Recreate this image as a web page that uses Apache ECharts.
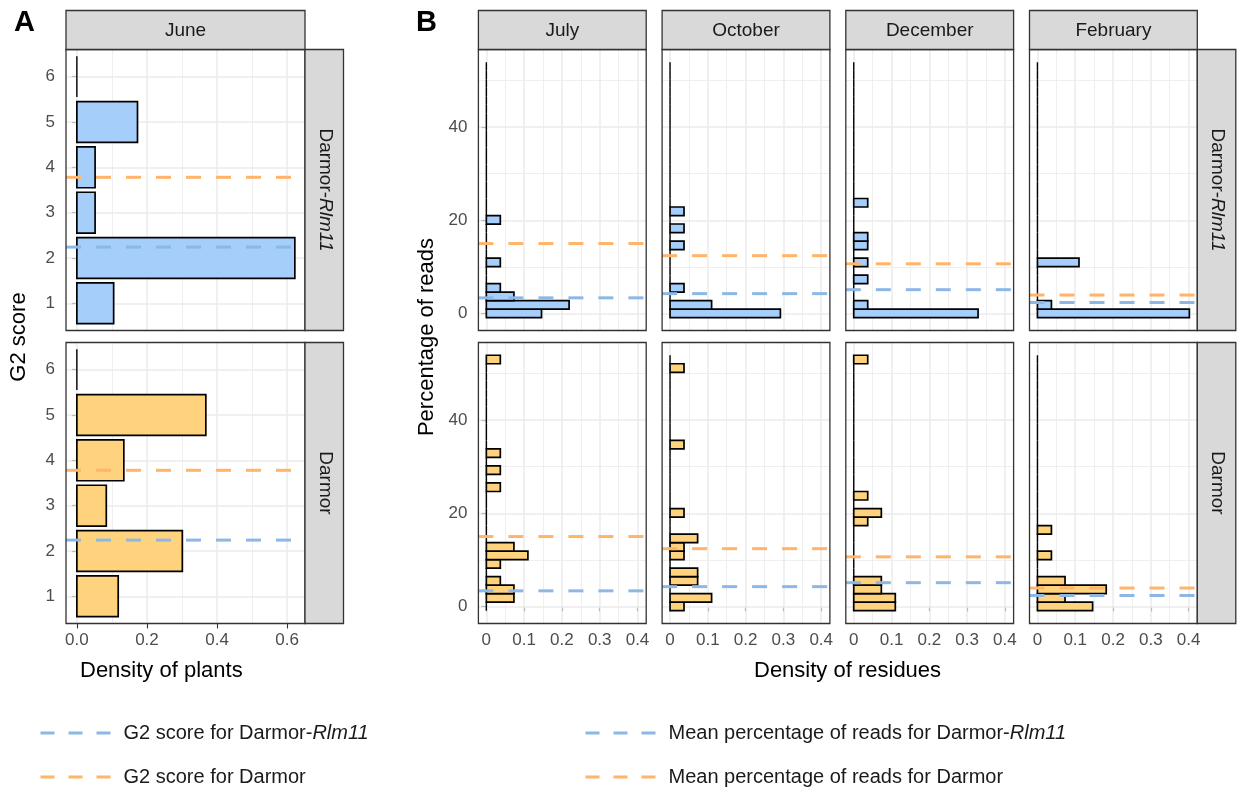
<!DOCTYPE html>
<html><head><meta charset="utf-8">
<script src="https://cdn.jsdelivr.net/npm/echarts@6/dist/echarts.min.js"></script>
<style>html,body{margin:0;padding:0;background:#fff}#c{width:1237px;height:790px}</style>
</head><body><div id="c"></div>
<script>
// ---------------- DATA ----------------
const genotypes = ['Darmor-Rlm11', 'Darmor'];
// Panel A: G2 score histogram (June)
const g2Scores = [1, 2, 3, 4, 5, 6];
const juneDensityRlm11 = [0.105, 0.622, 0.052, 0.052, 0.173, 0];
const juneDensityDarmor = [0.118, 0.301, 0.084, 0.134, 0.368, 0];
const g2MeanRlm11 = 2.24;
const g2MeanDarmor = 3.78;
// Panel B: percentage of reads histograms
const months = ['July', 'October', 'December', 'February'];
const binCenters = [0, 1.83, 3.66, 5.48, 7.31, 9.14, 10.97, 12.79, 14.62, 16.45, 18.28, 20.1, 21.93, 23.76, 25.59,
  27.41, 29.24, 31.07, 32.9, 34.72, 36.55, 38.38, 40.21, 42.03, 43.86, 45.69, 47.52, 49.34, 51.17, 53.0];
const julyRlm11 = [0.146,0.219,0.073,0.037,0,0,0.037,0,0,0,0,0.037,0,0,0,0,0,0,0,0,0,0,0,0,0,0,0,0,0,0];
const octoberRlm11 = [0.292,0.11,0,0.037,0,0,0,0,0.037,0,0.037,0,0.037,0,0,0,0,0,0,0,0,0,0,0,0,0,0,0,0,0];
const decemberRlm11 = [0.329,0.037,0,0,0.037,0,0.037,0,0.037,0.037,0,0,0,0.037,0,0,0,0,0,0,0,0,0,0,0,0,0,0,0,0];
const februaryRlm11 = [0.402,0.037,0,0,0,0,0.11,0,0,0,0,0,0,0,0,0,0,0,0,0,0,0,0,0,0,0,0,0,0,0];
const julyDarmor = [0,0.073,0.073,0.037,0,0.037,0.11,0.073,0,0,0,0,0,0,0.037,0,0.037,0,0.037,0,0,0,0,0,0,0,0,0,0,0.037];
const octoberDarmor = [0.037,0.11,0,0.073,0.073,0,0.037,0.037,0.073,0,0,0.037,0,0,0,0,0,0,0,0.037,0,0,0,0,0,0,0,0,0.037,0];
const decemberDarmor = [0.11,0.11,0.073,0.073,0,0,0,0,0,0,0.037,0.073,0,0.037,0,0,0,0,0,0,0,0,0,0,0,0,0,0,0,0.037];
const februaryDarmor = [0.146,0.073,0.182,0.073,0,0,0.037,0,0,0.037,0,0,0,0,0,0,0,0,0,0,0,0,0,0,0,0,0,0,0,0];
const readsMeanRlm11 = [3.35, 4.25, 5.1, 2.35];
const readsMeanDarmor = [15.0, 12.4, 10.65, 3.95];
// Ticks
const xTicksA = [0, 0.2, 0.4, 0.6];
const xMinorA = [0.1, 0.3, 0.5];
const yTicksA = [1, 2, 3, 4, 5, 6];
const xTicksB = [0, 0.1, 0.2, 0.3, 0.4];
const xMinorB = [0.05, 0.15, 0.25, 0.35];
const yTicksB = [0, 20, 40];
const yMinorB = [10, 30, 50];

const readsRlm11 = [julyRlm11, octoberRlm11, decemberRlm11, februaryRlm11];
const readsDarmor = [julyDarmor, octoberDarmor, decemberDarmor, februaryDarmor];

// ---------------- STYLE / LAYOUT ----------------
const FONT = '"Liberation Sans", Arial, Helvetica, sans-serif';
const FILL = { 'Darmor-Rlm11': '#a6cefb', 'Darmor': '#ffd37d' };
const LINE_BLUE = '#8db8e6', LINE_ORANGE = '#ffb46a';
const ROW_TOP = [49.5, 342.5], ROW_H = 281;
const A_LEFT = 66, A_W = 239;
const B_LEFT = [478.4, 662.1, 845.8, 1029.5], B_W = 167.8;
const STRIP_TOP = 10.5, STRIP_H = 39, RSTRIP_W = 38.5;
const A_XR = [-0.031, 0.651], A_YR = [0.4, 6.6];
const B_XR = [-0.021, 0.423], B_YR = [-3.66, 56.65];
const BAR_HALF_A = 0.45, BAR_HALF_B = 0.914;

const grids = [], xAxes = [], yAxes = [], series = [], graphics = [];

function gridLines(xMaj, xMin, yMaj, yMin) {
  const d = [];
  const maj = { color: '#ebebeb', width: 1.5, type: 'solid' };
  const mnr = { color: '#ededed', width: 0.9, type: 'solid' };
  xMin.forEach(v => d.push({ xAxis: v, lineStyle: mnr }));
  yMin.forEach(v => d.push({ yAxis: v, lineStyle: mnr }));
  xMaj.forEach(v => d.push({ xAxis: v, lineStyle: maj }));
  yMaj.forEach(v => d.push({ yAxis: v, lineStyle: maj }));
  return { silent: true, z: 1, symbol: ['none', 'none'], animation: false, label: { show: false }, emphasis: { disabled: true }, data: d };
}

function addPanel(p) {
  const gi = grids.length;
  grids.push({ left: p.left, top: p.top, width: p.width, height: p.height, show: false, containLabel: false, outerBoundsMode: 'none' });
  const tickStyle = { color: '#333333', width: 1.1 };
  xAxes.push({
    type: 'value', gridIndex: gi, min: p.xr[0], max: p.xr[1],
    axisLine: { show: false }, splitLine: { show: false }, minorSplitLine: { show: false },
    axisTick: { show: p.showX, customValues: p.xTicks, length: 5, lineStyle: tickStyle },
    axisLabel: { show: p.showX, customValues: p.xTicks, formatter: p.xFmt, color: '#4d4d4d', fontSize: 17, fontFamily: FONT, margin: 8 }
  });
  yAxes.push({
    type: 'value', gridIndex: gi, min: p.yr[0], max: p.yr[1],
    axisLine: { show: false }, splitLine: { show: false }, minorSplitLine: { show: false },
    axisTick: { show: p.showY, customValues: p.yTicks, length: 5, lineStyle: tickStyle },
    axisLabel: { show: p.showY, customValues: p.yTicks, color: '#4d4d4d', fontSize: 17, fontFamily: FONT, margin: 11 }
  });
  const half = p.half, fill = p.fill;
  series.push({
    type: 'custom', xAxisIndex: gi, yAxisIndex: gi, z: 2, clip: true, silent: true,
    data: p.values.map((d, i) => [d, p.cats[i]]),
    renderItem: (params, api) => {
      const d = api.value(0), c = api.value(1);
      const p0 = api.coord([0, c + half]);
      const p1 = api.coord([d, c - half]);
      if (!d) {
        return { type: 'line', shape: { x1: p0[0], y1: p0[1], x2: p0[0], y2: p1[1] }, style: { stroke: '#000', lineWidth: 1.4 } };
      }
      return { type: 'rect', shape: { x: p0[0], y: p0[1], width: p1[0] - p0[0], height: p1[1] - p0[1] },
        style: { fill: fill, stroke: '#000', lineWidth: 1.7 } };
    },
    markLine: gridLines(p.xTicks, p.xMinor, p.yTicks, p.yMinor)
  });
  p.means.forEach(m => {
    series.push({
      type: 'line', name: m.name, xAxisIndex: gi, yAxisIndex: gi, z: 3, silent: true, symbol: 'none', showSymbol: false,
      color: m.color, data: [[p.xr[0], m.value], [p.xr[1], m.value]],
      lineStyle: { color: m.color, width: 3, type: [15, 15] }
    });
  });
  graphics.push({ type: 'rect', z: 100, silent: true, shape: { x: p.left, y: p.top, width: p.width, height: p.height },
    style: { fill: 'none', stroke: '#333333', lineWidth: 1.3 } });
  return gi;
}

function topStrip(x, w, label) {
  graphics.push({ type: 'rect', z: 100, silent: true, shape: { x: x, y: STRIP_TOP, width: w, height: STRIP_H },
    style: { fill: '#d9d9d9', stroke: '#333333', lineWidth: 1.3 } });
  graphics.push({ type: 'text', z: 101, silent: true, x: x + w / 2, y: STRIP_TOP + STRIP_H / 2 + 1,
    style: { text: label, fill: '#1a1a1a', fontSize: 19, fontFamily: FONT, align: 'center', verticalAlign: 'middle' } });
}
function rightStrip(x, y, h, label) {
  graphics.push({ type: 'rect', z: 100, silent: true, shape: { x: x, y: y, width: RSTRIP_W, height: h },
    style: { fill: '#d9d9d9', stroke: '#333333', lineWidth: 1.3 } });
  graphics.push({ type: 'text', z: 101, silent: true, x: x + RSTRIP_W / 2 + 1, y: y + h / 2, rotation: -Math.PI / 2,
    style: { text: label.replace('Rlm11', '{i|Rlm11}'), fill: '#1a1a1a', fontSize: 19, fontFamily: FONT, align: 'center', verticalAlign: 'middle',
      rich: { i: { fontStyle: 'italic', fontSize: 19, fontFamily: FONT, fill: '#1a1a1a' } } } });
}

// Panel A
const juneData = [juneDensityRlm11, juneDensityDarmor];
genotypes.forEach((g, r) => {
  addPanel({
    left: A_LEFT, top: ROW_TOP[r], width: A_W, height: ROW_H, xr: A_XR, yr: A_YR,
    xTicks: xTicksA, xMinor: xMinorA, yTicks: yTicksA, yMinor: [],
    showX: r === 1, showY: true, xFmt: v => v.toFixed(1),
    values: juneData[r], cats: g2Scores, half: BAR_HALF_A, fill: FILL[g],
    means: [
      { name: 'G2 score for Darmor-Rlm11', value: g2MeanRlm11, color: LINE_BLUE },
      { name: 'G2 score for Darmor', value: g2MeanDarmor, color: LINE_ORANGE }
    ]
  });
  rightStrip(A_LEFT + A_W, ROW_TOP[r], ROW_H, g);
});
topStrip(A_LEFT, A_W, 'June');

// Panel B
const readsData = [readsRlm11, readsDarmor];
genotypes.forEach((g, r) => {
  months.forEach((m, c) => {
    addPanel({
      left: B_LEFT[c], top: ROW_TOP[r], width: B_W, height: ROW_H, xr: B_XR, yr: B_YR,
      xTicks: xTicksB, xMinor: xMinorB, yTicks: yTicksB, yMinor: yMinorB,
      showX: r === 1, showY: c === 0, xFmt: v => String(v),
      values: readsData[r][c], cats: binCenters, half: BAR_HALF_B, fill: FILL[g],
      means: [
        { name: 'Mean percentage of reads for Darmor-Rlm11', value: readsMeanRlm11[c], color: LINE_BLUE },
        { name: 'Mean percentage of reads for Darmor', value: readsMeanDarmor[c], color: LINE_ORANGE }
      ]
    });
  });
  rightStrip(B_LEFT[3] + B_W, ROW_TOP[r], ROW_H, g);
});
months.forEach((m, c) => topStrip(B_LEFT[c], B_W, m));

// Titles / labels
const titleStyle = { fill: '#000', fontSize: 22, fontFamily: FONT };
graphics.push({ type: 'text', silent: true, x: 14, y: 22.5, style: { text: 'A', fill: '#000', fontSize: 29, fontWeight: 'bold', fontFamily: FONT, verticalAlign: 'middle' } });
graphics.push({ type: 'text', silent: true, x: 416, y: 22.5, style: { text: 'B', fill: '#000', fontSize: 29, fontWeight: 'bold', fontFamily: FONT, verticalAlign: 'middle' } });
graphics.push({ type: 'text', silent: true, x: 80, y: 671, style: Object.assign({ text: 'Density of plants', verticalAlign: 'middle' }, titleStyle) });
graphics.push({ type: 'text', silent: true, x: 754, y: 671, style: Object.assign({ text: 'Density of residues', verticalAlign: 'middle' }, titleStyle) });
graphics.push({ type: 'text', silent: true, x: 19, y: 337, rotation: Math.PI / 2, style: Object.assign({ text: 'G2 score', align: 'center', verticalAlign: 'middle' }, titleStyle) });
graphics.push({ type: 'text', silent: true, x: 427, y: 337, rotation: Math.PI / 2, style: Object.assign({ text: 'Percentage of reads', align: 'center', verticalAlign: 'middle' }, titleStyle) });

const legendText = {
  fontSize: 20, color: '#1a1a1a', fontFamily: FONT, padding: [0, 0, 0, 8],
  rich: { i: { fontStyle: 'italic', fontSize: 20, color: '#1a1a1a', fontFamily: FONT } }
};
const legendFmt = name => name.replace('Rlm11', '{i|Rlm11}');
const legends = [
  { data: ['G2 score for Darmor-Rlm11', 'G2 score for Darmor'], left: 39 },
  { data: ['Mean percentage of reads for Darmor-Rlm11', 'Mean percentage of reads for Darmor'], left: 584 }
].map(l => ({
  data: l.data, left: l.left, top: 723, orient: 'vertical', itemWidth: 70, itemHeight: 20, itemGap: 24,
  padding: 0, selectedMode: false, formatter: legendFmt, textStyle: legendText,
  itemStyle: { opacity: 0 },
  lineStyle: { width: 3, type: [14, 14] }
}));

const chart = echarts.init(document.getElementById('c'), null, { renderer: 'canvas' });
chart.setOption({
  animation: false,
  backgroundColor: '#ffffff',
  grid: grids, xAxis: xAxes, yAxis: yAxes, series: series,
  legend: legends,
  graphic: { elements: graphics }
});
</script></body></html>
